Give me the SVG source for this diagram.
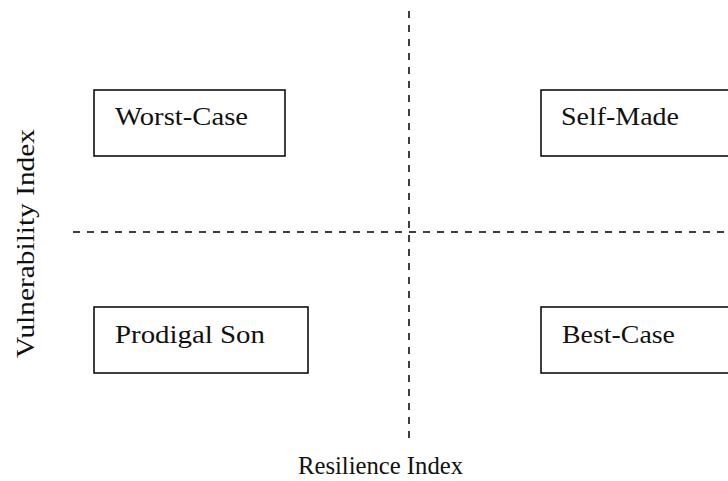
<svg xmlns="http://www.w3.org/2000/svg" width="728" height="481" viewBox="0 0 728 481">
<style>
.box{fill:#fff;stroke:#000;stroke-width:1.5}
.lbl{font-family:"Liberation Serif","DejaVu Serif",serif;font-size:25px;fill:#111}
.dash{stroke:#000;stroke-width:1.5;stroke-dasharray:7 7;fill:none}
</style>
<rect width="728" height="481" fill="#fff"/>
<g id="connectors">
<line class="dash" x1="409" y1="11" x2="409" y2="440"/>
<line class="dash" x1="73" y1="232" x2="728" y2="232"/>
</g>
<g id="worst-case"><rect class="box" x="94" y="90" width="191" height="66"/><text class="lbl" x="115" y="125" textLength="133" lengthAdjust="spacingAndGlyphs">Worst-Case</text></g>
<g id="self-made"><rect class="box" x="541" y="90" width="200" height="66"/><text class="lbl" x="561" y="125" textLength="118" lengthAdjust="spacingAndGlyphs">Self-Made</text></g>
<g id="prodigal-son"><rect class="box" x="94" y="307" width="214" height="66"/><text class="lbl" x="115" y="343" textLength="150" lengthAdjust="spacingAndGlyphs">Prodigal Son</text></g>
<g id="best-case"><rect class="box" x="541" y="307" width="200" height="66"/><text class="lbl" x="562" y="343" textLength="113" lengthAdjust="spacingAndGlyphs">Best-Case</text></g>
<g id="axis-labels">
<text class="lbl" x="298" y="474" textLength="165" lengthAdjust="spacingAndGlyphs">Resilience Index</text>
<text class="lbl" transform="translate(34,358) rotate(-90)" textLength="229" lengthAdjust="spacingAndGlyphs">Vulnerability Index</text>
</g>
</svg>
